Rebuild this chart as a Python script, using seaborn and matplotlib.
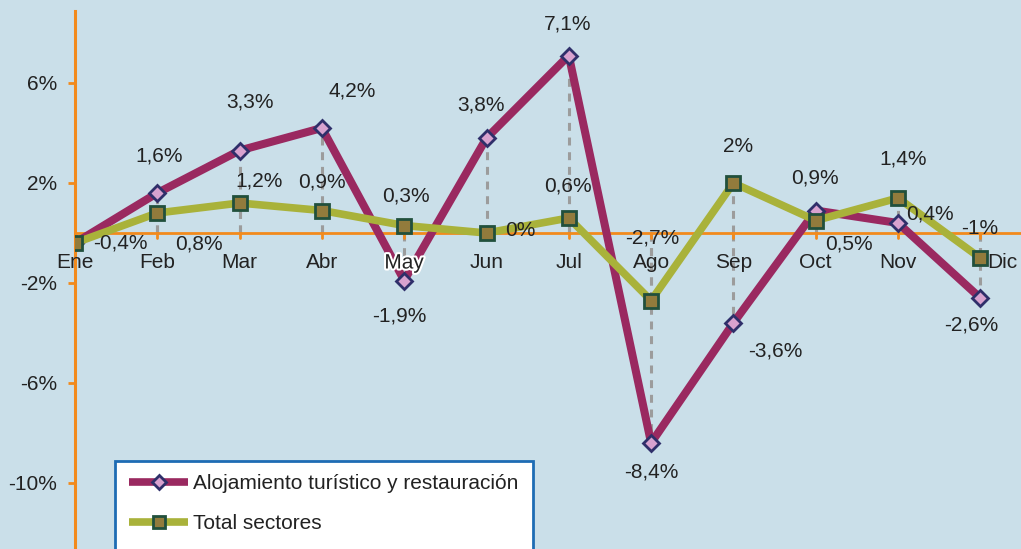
import numpy as np
import pandas as pd
import matplotlib
matplotlib.use("Agg")
import matplotlib.pyplot as plt
import matplotlib.patheffects as pe
from matplotlib.patches import Rectangle
from matplotlib.lines import Line2D
import seaborn as sns

months = ["Ene", "Feb", "Mar", "Abr", "May", "Jun", "Jul", "Ago", "Sep", "Oct", "Nov", "Dic"]
alojamiento = [-0.4, 1.6, 3.3, 4.2, -1.9, 3.8, 7.1, -8.4, -3.6, 0.9, 0.4, -2.6]
total = [-0.4, 0.8, 1.2, 0.9, 0.3, 0.0, 0.6, -2.7, 2.0, 0.5, 1.4, -1.0]
yticks = [6, 2, -2, -6, -10]
series_names = ["Alojamiento turístico y restauración", "Total sectores"]

sns.set_theme(style="white")
plt.rcParams["font.family"] = ["Liberation Sans", "DejaVu Sans"]

BG = "#cadfe9"
ORANGE = "#f28a1c"
C_AL = "#9a2960"
C_TO = "#a9b23a"

W, H = 1021, 549
fig = plt.figure(figsize=(W / 100, H / 100), dpi=100, facecolor=BG)
ax = fig.add_axes([75 / W, 0, 1 - 75 / W, 1])
ax.set_facecolor(BG)

step = 82.3
ax.set_xlim(0, (W - 75) / step)
ax.set_ylim(-(H - 233) / 25.0, 233 / 25.0)

pos = np.arange(len(months))

# drop lines
for i in pos[1:]:
    for v in (alojamiento[i], total[i]):
        ax.plot([i, i], [0, v], color="#9c9c9c", lw=2.2, ls=(0, (2.6, 2.2)), zorder=1)

# zero line
ax.axhline(0, color=ORANGE, lw=2, zorder=1.5)

df = pd.DataFrame({"pos": pos, "al": alojamiento, "to": total})
sns.lineplot(data=df, x="pos", y="to", ax=ax, color=C_TO, lw=5.5, marker="s", ms=10,
             mfc="#927b3c", mec="#21503c", mew=2, zorder=3)
sns.lineplot(data=df, x="pos", y="al", ax=ax, color=C_AL, lw=5.8, marker="D", ms=8.5,
             mfc="#d8a2cf", mec="#2f2f6a", mew=2, zorder=2.5)

# spines / ticks
for s in ["top", "right", "bottom"]:
    ax.spines[s].set_visible(False)
ax.spines["left"].set_color(ORANGE)
ax.spines["left"].set_linewidth(2.2)
ax.spines["left"].set_bounds(-(H - 233) / 25.0, 8.9)
ax.set_yticks(yticks)
ax.set_yticklabels([f"{t}%" for t in yticks])
FS = 15
ax.tick_params(axis="y", direction="out", length=5, width=2, color=ORANGE,
               labelsize=FS, labelcolor="#222222", pad=8, left=True)
ax.set_xticks([])
ax.set_xlabel("")
ax.set_ylabel("")

# x ticks on zero line
for i in pos[1:]:
    ax.plot([i, i], [0, -5 / 25.0], color=ORANGE, lw=2, zorder=1.6)

# month labels
for i, m in enumerate(months):
    dx = 22 if m == "Dic" else 0
    t = ax.annotate(m, (i, 0), xytext=(dx * 0.72, -30 * 0.72), textcoords="offset points",
                    ha="center", va="center", fontsize=FS, color="#222222", zorder=5)
    if m == "May":
        t.set_path_effects([pe.withStroke(linewidth=3, foreground="white")])

def fmt(v):
    s = f"{v:.1f}".replace(".", ",")
    if s.endswith(",0"):
        s = s[:-2]
    if s == "-0":
        s = "0"
    return s + "%"

# label offsets in pixels (dx right, dy down)
off_al = [(45, 0), (2, -37), (10, -49), (30, -37), (-5, 35), (-6, -33), (-1, -32),
          (0, 29), (42, 28), (-1, -32), (32, -9), (-9, 27)]
off_to = [None, (42, 31), (19, -22), (0, -29), (2, -29), (34, -2), (-1, -32),
          (1, -62), (5, -37), (33, 24), (5, -39), (-1, -30)]

for i in pos:
    dx, dy = off_al[i]
    ax.annotate(fmt(alojamiento[i]), (i, alojamiento[i]), xytext=(dx * 0.72, -dy * 0.72),
                textcoords="offset points", ha="center", va="center", fontsize=FS,
                color="#222222", zorder=6)
    if off_to[i] is not None:
        dx, dy = off_to[i]
        ax.annotate(fmt(total[i]), (i, total[i]), xytext=(dx * 0.72, -dy * 0.72),
                    textcoords="offset points", ha="center", va="center", fontsize=FS,
                    color="#222222", zorder=6)

# legend box
rect = Rectangle((115 / W, -0.05), (533 - 115) / W, (H - 461) / H + 0.05,
                 transform=fig.transFigure, facecolor="white", edgecolor="#1e6cb4",
                 lw=2, zorder=10)
fig.patches.append(rect)
handles = [
    Line2D([], [], color=C_AL, lw=5.5, marker="D", ms=7, mfc="#d8a2cf", mec="#2f2f6a",
           mew=2, solid_capstyle="butt"),
    Line2D([], [], color=C_TO, lw=5.5, marker="s", ms=8, mfc="#927b3c", mec="#21503c",
           mew=2, solid_capstyle="butt"),
]
leg = fig.legend(handles, series_names, loc="upper left",
                 bbox_to_anchor=(121 / W, 1 - 466 / H), frameon=False, fontsize=FS,
                 handlelength=2.8, handletextpad=0.25, labelspacing=1.0, borderaxespad=0)
leg.set_zorder(11)
for t in leg.get_texts():
    t.set_color("#222222")

fig.savefig("out.png", dpi=100, facecolor=BG)
